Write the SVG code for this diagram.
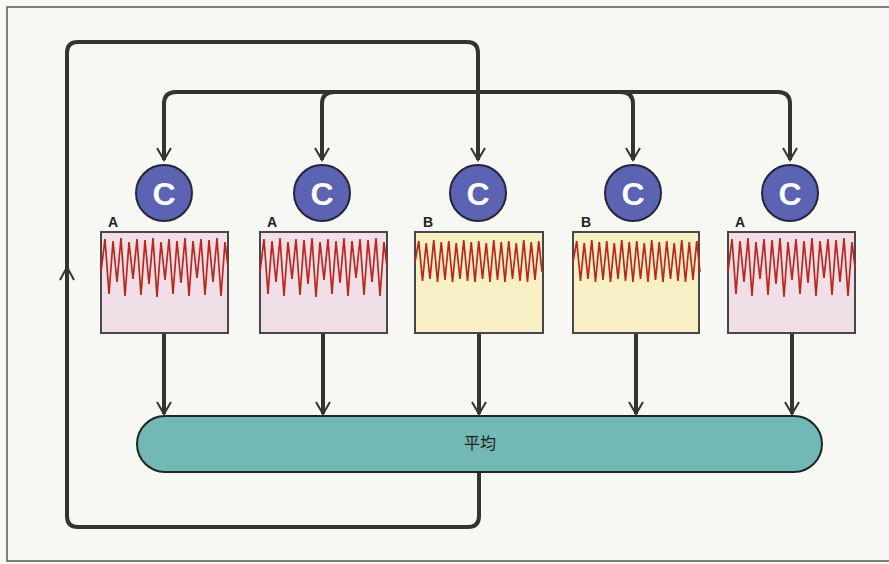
<svg xmlns="http://www.w3.org/2000/svg" width="889" height="564" viewBox="0 0 889 564">
<style>
.bg{fill:#f7f7f4}
.frame{fill:none;stroke:#5a5a58;stroke-width:1.5}
.conn{fill:none;stroke:#34342e;stroke-width:4;stroke-linejoin:round}
.chev{fill:none;stroke:#34342e;stroke-width:2}
.circ{fill:#5b63b2;stroke:#26263a;stroke-width:2}
.ctext{font-family:"Liberation Sans",Arial,sans-serif;font-weight:bold;font-size:32px;fill:#ffffff;text-anchor:middle}
.lbl{font-family:"Liberation Sans",Arial,sans-serif;font-weight:bold;font-size:14px;fill:#1e1e1e}
.boxA{fill:#f1dfe8;stroke:#47474a;stroke-width:2}
.boxB{fill:#f8efc4;stroke:#47474a;stroke-width:2}
.wave{fill:none;stroke:#b8281e;stroke-width:1.7;stroke-linejoin:miter}
.pill{fill:#72b8b4;stroke:#1e2626;stroke-width:2}
.ptext{font-family:"Noto Sans CJK JP","Noto Sans CJK SC",sans-serif;font-size:16px;fill:#1e1e1e;text-anchor:middle}
</style>
<defs>
<marker id="arr" viewBox="-14 -8 16 16" refX="0" refY="0" markerWidth="16" markerHeight="16" markerUnits="userSpaceOnUse" orient="auto-start-reverse">
<path d="M-12,-7 L0,0 L-12,7" fill="none" stroke="#34342e" stroke-width="2"/>
</marker>
<polyline id="waveA" class="wave" points="0,40 4,7 8,62 12,9 16,50 20,6 24,64 28,10 32,47 36,7 40,63 44,8 48,52 52,6 56,65 60,10 64,48 68,7 72,62 76,9 80,51 84,6 88,64 92,9 96,46 100,7 104,63 108,8 112,50 116,6 120,64 124,10 127,35"/>
<polyline id="waveB" class="wave" points="0,30 3.75,9 7.5,49 11.25,11 15,47 18.75,8 22.5,50 26.25,10 30,48 33.75,9 37.5,50 41.25,11 45,47 48.75,8 52.5,49 56.25,10 60,50 63.75,9 67.5,47 71.25,11 75,50 78.75,8 82.5,48 86.25,10 90,50 93.75,9 97.5,47 101.25,11 105,49 108.75,8 112.5,50 116.25,10 120,48 123.75,9 127,40"/>
</defs>
<rect class="bg" x="0" y="0" width="889" height="564"/>
<path class="frame" d="M889,7 L7,7 L7,561 L889,561"/>

<g id="connectors">
<path class="conn" marker-end="url(#arr)" d="M479,472 L479,516 Q479,527 468,527 L78,527 Q67,527 67,516 L67,53 Q67,42 78,42 L467,42 Q478,42 478,53 L478,160"/>
<path class="chev" d="M60,280 L67,267 L74,280"/>
<path class="conn" marker-start="url(#arr)" marker-end="url(#arr)" d="M164,160 L164,104 Q164,92 176,92 L778,92 Q790,92 790,104 L790,160"/>
<path class="conn" marker-end="url(#arr)" d="M334,92 Q322,92 322,104 L322,160"/>
<path class="conn" marker-end="url(#arr)" d="M621,92 Q633,92 633,104 L633,160"/>
<path class="conn" marker-end="url(#arr)" d="M164,333 L164,414"/>
<path class="conn" marker-end="url(#arr)" d="M323,333 L323,414"/>
<path class="conn" marker-end="url(#arr)" d="M479,333 L479,414"/>
<path class="conn" marker-end="url(#arr)" d="M636,333 L636,414"/>
<path class="conn" marker-end="url(#arr)" d="M792,333 L792,414"/>
</g>

<g id="c1"><circle class="circ" cx="164" cy="193" r="28"/><text class="ctext" x="164" y="205">C</text></g>
<g id="c2"><circle class="circ" cx="322" cy="193" r="28"/><text class="ctext" x="322" y="205">C</text></g>
<g id="c3"><circle class="circ" cx="478" cy="193" r="28"/><text class="ctext" x="478" y="205">C</text></g>
<g id="c4"><circle class="circ" cx="633" cy="193" r="28"/><text class="ctext" x="633" y="205">C</text></g>
<g id="c5"><circle class="circ" cx="790" cy="193" r="28"/><text class="ctext" x="790" y="205">C</text></g>

<g id="box1"><rect class="boxA" x="101" y="232" width="127" height="101"/><use href="#waveA" x="101" y="232"/><text class="lbl" x="108" y="227">A</text></g>
<g id="box2"><rect class="boxA" x="260" y="232" width="127" height="101"/><use href="#waveA" x="260" y="232"/><text class="lbl" x="267" y="227">A</text></g>
<g id="box3"><rect class="boxB" x="415" y="232" width="128" height="101"/><use href="#waveB" x="415" y="232"/><text class="lbl" x="423" y="227">B</text></g>
<g id="box4"><rect class="boxB" x="573" y="232" width="126" height="101"/><use href="#waveB" x="573" y="232"/><text class="lbl" x="581" y="227">B</text></g>
<g id="box5"><rect class="boxA" x="728" y="232" width="127" height="101"/><use href="#waveA" x="728" y="232"/><text class="lbl" x="735" y="227">A</text></g>

<g id="average"><rect class="pill" x="137" y="416" width="685" height="56" rx="28" ry="28"/><text class="ptext" x="480" y="449">平均</text></g>
</svg>
